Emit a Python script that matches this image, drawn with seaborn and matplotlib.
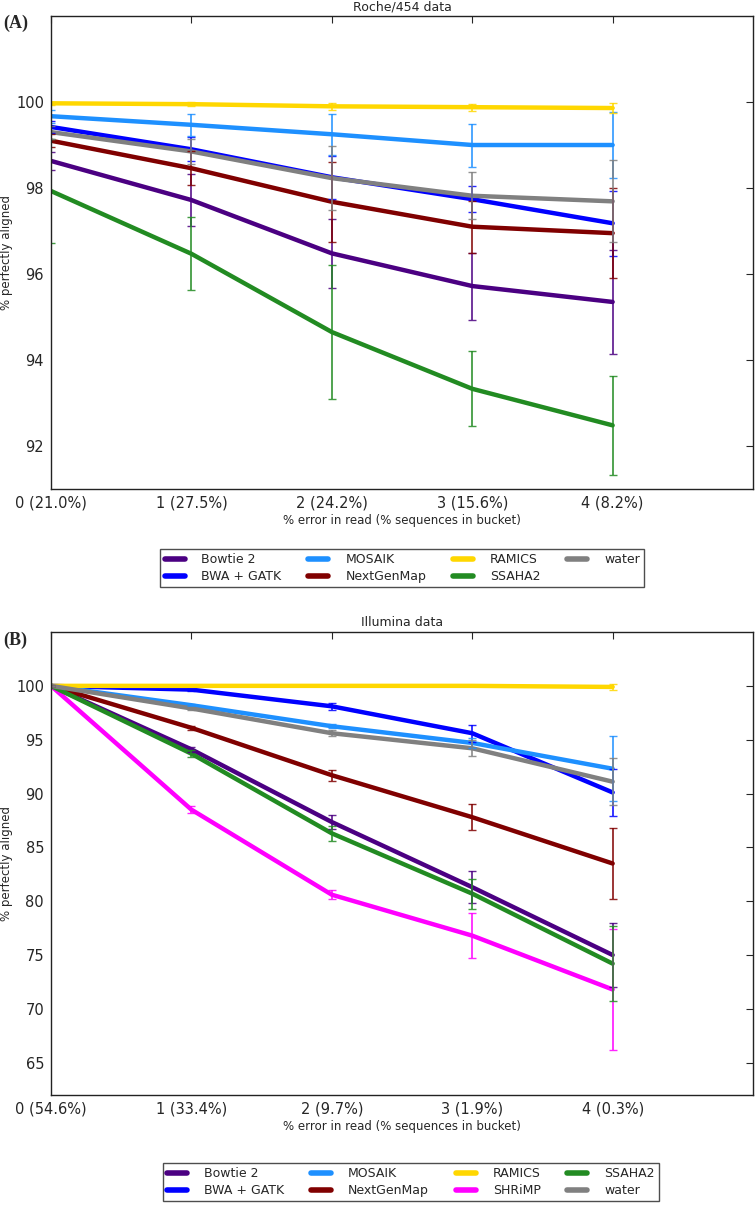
import numpy as np
import pandas as pd
import seaborn as sns
import matplotlib
matplotlib.use("Agg")
import matplotlib.pyplot as plt

# ---- data ----
error_pct = [0, 1, 2, 3, 4]
roche_ticks = ['0 (21.0%)', '1 (27.5%)', '2 (24.2%)', '3 (15.6%)', '4 (8.2%)']
illumina_ticks = ['0 (54.6%)', '1 (33.4%)', '2 (9.7%)', '3 (1.9%)', '4 (0.3%)']

roche_mean = {
    'Bowtie 2':   [98.63, 97.72, 96.48, 95.72, 95.35],
    'BWA + GATK': [99.42, 98.90, 98.25, 97.74, 97.18],
    'MOSAIK':     [99.67, 99.47, 99.25, 99.00, 99.00],
    'NextGenMap': [99.10, 98.46, 97.68, 97.10, 96.95],
    'RAMICS':     [99.97, 99.95, 99.90, 99.88, 99.86],
    'SSAHA2':     [97.93, 96.47, 94.65, 93.33, 92.48],
    'water':      [99.30, 98.85, 98.23, 97.82, 97.69],
}
roche_err = {
    'Bowtie 2':   [0.20, 0.60, 0.80, 0.78, 1.20],
    'BWA + GATK': [0.15, 0.28, 0.50, 0.30, 0.75],
    'MOSAIK':     [0.15, 0.26, 0.48, 0.50, 0.77],
    'NextGenMap': [0.15, 0.40, 0.93, 0.60, 1.05],
    'RAMICS':     [0.03, 0.04, 0.08, 0.08, 0.12],
    'SSAHA2':     [1.20, 0.85, 1.55, 0.87, 1.15],
    'water':      [0.15, 0.30, 0.75, 0.55, 0.95],
}

illumina_mean = {
    'Bowtie 2':   [100.0, 94.1, 87.35, 81.3, 75.0],
    'BWA + GATK': [100.0, 99.65, 98.1, 95.6, 90.1],
    'MOSAIK':     [100.0, 98.2, 96.25, 94.7, 92.3],
    'NextGenMap': [100.0, 96.1, 91.7, 87.8, 83.5],
    'RAMICS':     [100.0, 100.0, 100.0, 100.0, 99.9],
    'SHRiMP':     [100.0, 88.5, 80.6, 76.8, 71.8],
    'SSAHA2':     [100.0, 93.7, 86.3, 80.7, 74.2],
    'water':      [100.0, 97.9, 95.6, 94.2, 91.1],
}
illumina_err = {
    'Bowtie 2':   [0.0, 0.2, 0.65, 1.5, 3.0],
    'BWA + GATK': [0.0, 0.1, 0.3, 0.8, 2.2],
    'MOSAIK':     [0.0, 0.1, 0.2, 0.5, 3.0],
    'NextGenMap': [0.0, 0.2, 0.5, 1.2, 3.3],
    'RAMICS':     [0.0, 0.05, 0.05, 0.05, 0.3],
    'SHRiMP':     [0.0, 0.3, 0.4, 2.1, 5.6],
    'SSAHA2':     [0.0, 0.3, 0.7, 1.4, 3.5],
    'water':      [0.0, 0.1, 0.3, 0.75, 2.2],
}

colors = {
    'Bowtie 2': '#4b0082',
    'BWA + GATK': '#0000ff',
    'MOSAIK': '#1e90ff',
    'NextGenMap': '#800000',
    'RAMICS': '#ffd700',
    'SHRiMP': '#ff00ff',
    'SSAHA2': '#228b22',
    'water': '#808080',
}

sns.set_style("white")
plt.rcParams['font.family'] = ['DejaVu Sans']


def to_long(means):
    rows = []
    for name, vals in means.items():
        for x, v in zip(error_pct, vals):
            rows.append({'error': x, 'aligned': v, 'aligner': name})
    return pd.DataFrame(rows)


def draw_panel(ax, means, errs, ticks, title, ylim, yticks):
    df = to_long(means)
    names = list(means.keys())
    sns.lineplot(data=df, x='error', y='aligned', hue='aligner',
                 hue_order=names, palette=colors, linewidth=3.2,
                 legend=False, ax=ax)
    for name in names:
        ax.errorbar(error_pct, means[name], yerr=errs[name], fmt='none',
                    ecolor=colors[name], elinewidth=1.3, capsize=3,
                    capthick=1.0, alpha=0.85)
    ax.set_xlim(0, 5)
    ax.set_ylim(*ylim)
    ax.set_xticks(error_pct)
    ax.set_xticklabels(ticks, fontsize=10.5)
    ax.set_yticks(yticks)
    ax.tick_params(axis='y', labelsize=10.5)
    ax.tick_params(direction='in', top=True, right=True, length=5, width=0.8,
                   pad=5)
    for s in ax.spines.values():
        s.set_color('#222222')
        s.set_linewidth(1.0)
    ax.set_title(title, fontsize=9, pad=4)
    ax.set_xlabel('% error in read (% sequences in bucket)', fontsize=8.5, labelpad=2)
    ax.set_ylabel('% perfectly aligned', fontsize=8.5)
    ax.yaxis.set_label_coords(-0.054, 0.5)
    handles = [plt.Line2D([], [], color=colors[n], linewidth=4) for n in names]
    return handles, names


fig = plt.figure(figsize=(7.56, 12.05), dpi=100)
ax1 = fig.add_axes([0.0675, 0.5942, 0.9286, 0.3925])
ax2 = fig.add_axes([0.0675, 0.0913, 0.9286, 0.3842])

h1, n1 = draw_panel(ax1, roche_mean, roche_err, roche_ticks, 'Roche/454 data',
                    (91, 102), [92, 94, 96, 98, 100])
h2, n2 = draw_panel(ax2, illumina_mean, illumina_err, illumina_ticks, 'Illumina data',
                    (62, 105), [65, 70, 75, 80, 85, 90, 95, 100])

leg_kw = dict(ncol=4, fontsize=9, frameon=True, fancybox=False,
              edgecolor='#222222', handlelength=1.6, columnspacing=2.15,
              handletextpad=1.35, borderpad=0.35, labelspacing=0.3)
l1 = fig.legend(h1, n1, loc='center', bbox_to_anchor=(0.532, 0.5285), **leg_kw)
l2 = fig.legend(h2, n2, loc='center', bbox_to_anchor=(0.5437, 0.019), **leg_kw)
for leg in (l1, l2):
    leg.get_frame().set_linewidth(1.0)

fig.text(0.004, 0.981, '(A)', fontsize=13, fontweight='bold',
         family=['Liberation Serif', 'DejaVu Serif'], va='center', ha='left')
fig.text(0.004, 0.469, '(B)', fontsize=13, fontweight='bold',
         family=['Liberation Serif', 'DejaVu Serif'], va='center', ha='left')

fig.savefig('out.png', dpi=100)
